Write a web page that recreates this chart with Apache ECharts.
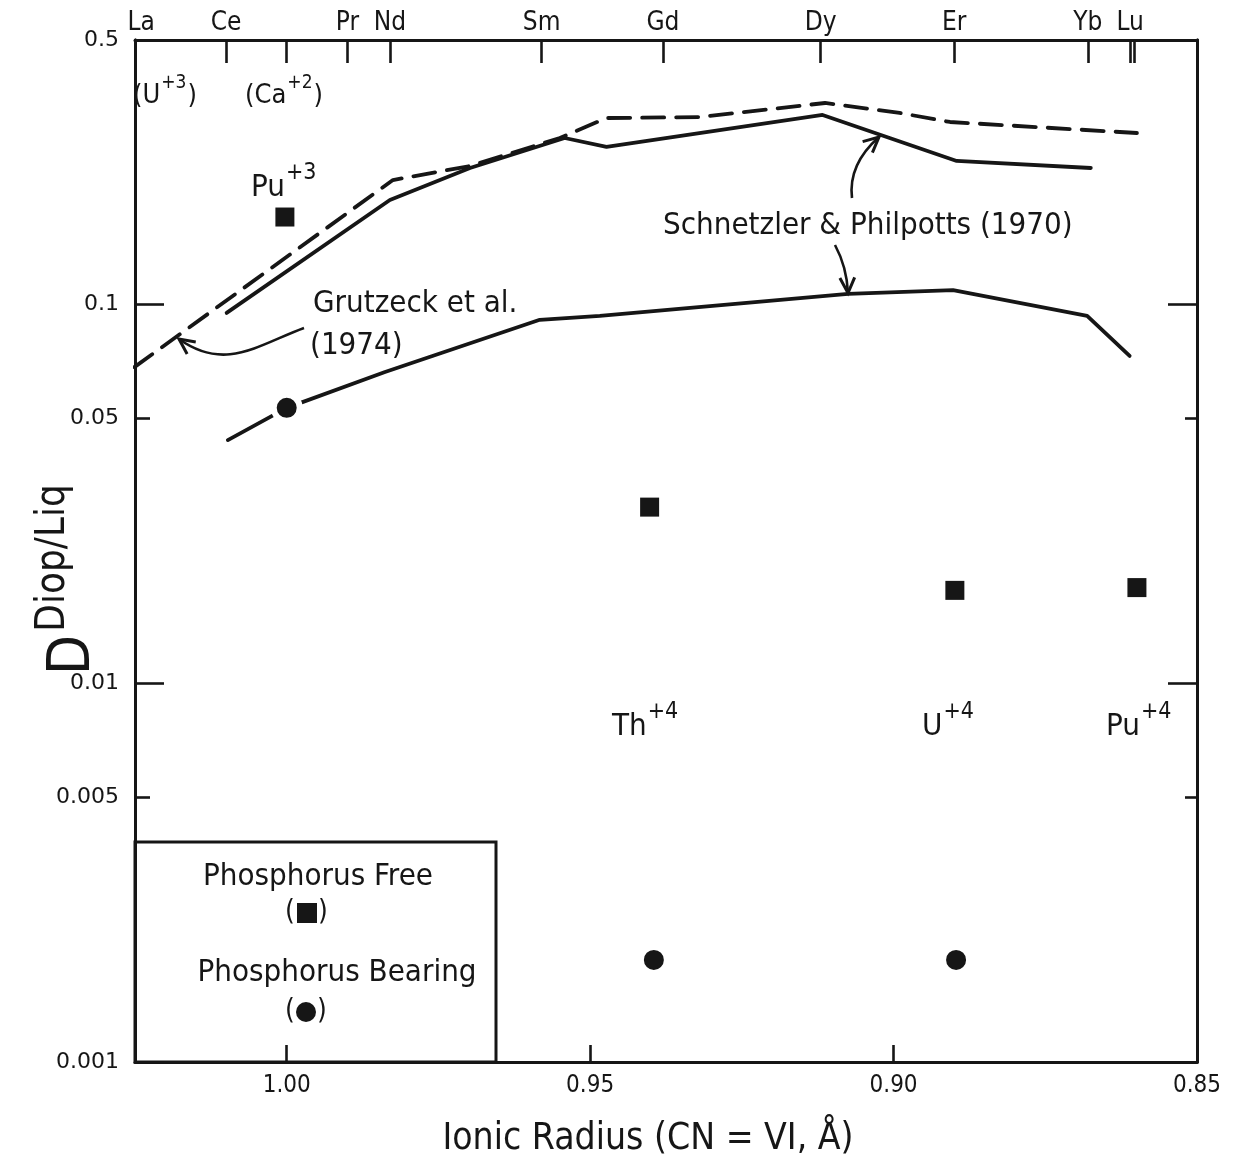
<!DOCTYPE html>
<html><head><meta charset="utf-8">
<script src="https://cdn.jsdelivr.net/npm/echarts@6/dist/echarts.min.js"></script>
<style>html,body{margin:0;padding:0;background:#fff}#c{width:1235px;height:1167px}</style>
</head><body><div id="c"></div>
<script>
// ---------------- data ----------------
// Grutzeck et al. (1974) – dashed curve
const grutzeckX = [1.0251, 0.9825, 0.9698, 0.9550, 0.9473, 0.9319, 0.9113, 0.8990, 0.8907, 0.8599];
const grutzeckY = [0.0684, 0.2134, 0.2324, 0.2755, 0.3111, 0.3130, 0.3409, 0.3209, 0.3037, 0.2840];
// Schnetzler & Philpotts (1970) – upper solid curve
const schUpperX = [1.0099, 0.9830, 0.9698, 0.9542, 0.9473, 0.9117, 0.8896, 0.8675];
const schUpperY = [0.0951, 0.1890, 0.2296, 0.2755, 0.2609, 0.3170, 0.2396, 0.2296];
// Schnetzler & Philpotts (1970) – lower solid curve
const schLowerX = [1.0097, 1.0000, 0.9838, 0.9583, 0.9484, 0.9075, 0.8902, 0.8681, 0.8611];
const schLowerY = [0.0439, 0.0534, 0.0664, 0.0912, 0.0934, 0.1068, 0.1093, 0.0934, 0.0732];
// Phosphorus free (squares): Pu+3, Th+4, U+4, Pu+4
const pFreeX = [1.0003, 0.9402, 0.8899, 0.8599];
const pFreeY = [0.1704, 0.0292, 0.0176, 0.0179];
// Phosphorus bearing (circles)
const pBearX = [1.0000, 0.9395, 0.8897];
const pBearY = [0.0534, 0.00186, 0.00186];
// axes
const xTickValues = [0.85, 0.90, 0.95, 1.00];
const yTickValues = [0.001, 0.005, 0.01, 0.05, 0.1, 0.5];
const yTickLabels = ['0.001', '0.005', '0.01', '0.05', '0.1', '0.5'];
const yMajorTicks = [0.001, 0.01, 0.1];
const yMinorTicks = [0.005, 0.05];
const elementNames = ['La', 'Ce', 'Pr', 'Nd', 'Sm', 'Gd', 'Dy', 'Er', 'Yb', 'Lu'];
const elementRadii = [1.024, 1.010, 0.990, 0.983, 0.958, 0.938, 0.912, 0.890, 0.868, 0.861];
const topTickValues = [1.010, 1.000, 0.990, 0.983, 0.958, 0.938, 0.912, 0.890, 0.868, 0.861, 0.8604];

// ---------------- helpers ----------------
const FONT = '"Liberation Sans Narrow","DejaVu Sans Condensed","Liberation Sans",sans-serif';
const NUMFONT = '"DejaVu Sans",sans-serif';
const INK = '#161616';
const mctx = document.createElement('canvas').getContext('2d');
function tw(t, fs, fam) { mctx.font = fs + 'px ' + (fam || FONT); return mctx.measureText(t).width; }
function pairs(xs, ys) { return xs.map((x, i) => [x, ys[i]]); }
function lookup(vals, labels, v) {
  for (let i = 0; i < vals.length; i++) if (Math.abs(vals[i] - v) / vals[i] < 1e-4) return labels[i];
  return '';
}
function txt(x, y, t, fs, align, extra) {
  return Object.assign({ type: 'text', x: x, y: y, silent: true,
    style: { text: t, fontSize: fs, fontFamily: FONT, fill: INK, align: align || 'left', verticalAlign: 'middle' } }, extra || {});
}
// superscripted label: parts alternate normal / sup
function supLabel(x, y, parts, fs, fsSup) {
  const out = []; let cx = x;
  parts.forEach(p => {
    const f = p.sup ? fsSup : fs;
    out.push(txt(cx, p.sup ? y - fs * 0.48 : y, p.t, f, 'left'));
    cx += tw(p.t, f) + 1;
  });
  return out;
}
function arrowHead(tx, ty, fx, fy, len, ang) {
  const a = Math.atan2(fy - ty, fx - tx);
  return { type: 'polyline', silent: true, shape: { points: [
    [tx + len * Math.cos(a + ang), ty + len * Math.sin(a + ang)], [tx, ty],
    [tx + len * Math.cos(a - ang), ty + len * Math.sin(a - ang)]] },
    style: { stroke: INK, lineWidth: 3, fill: null, lineJoin: 'miter' } };
}
function curve(x1, y1, c1x, c1y, c2x, c2y, x2, y2) {
  return { type: 'bezierCurve', silent: true,
    shape: { x1: x1, y1: y1, cpx1: c1x, cpy1: c1y, cpx2: c2x, cpy2: c2y, x2: x2, y2: y2 },
    style: { stroke: INK, lineWidth: 2.6, fill: null } };
}

const axisLine = { show: true, onZero: false, lineStyle: { color: INK, width: 3 } };
function yAxisDef(pos, ticks, len, labels) {
  return { type: 'log', logBase: 10, min: 0.001, max: 0.5, position: pos,
    axisLine: axisLine,
    axisTick: { show: true, inside: true, length: len, customValues: ticks, lineStyle: { color: INK, width: 2.6 } },
    axisLabel: labels ? { show: true, customValues: yTickValues, formatter: v => lookup(yTickValues, yTickLabels, v),
      fontFamily: NUMFONT, fontSize: 22, color: INK, margin: 16 } : { show: false },
    minorTick: { show: false }, splitLine: { show: false }, minorSplitLine: { show: false } };
}

const graphics = [];
// corner annotations
graphics.push(...supLabel(133, 96, [{ t: '(U' }, { t: '+3', sup: true }, { t: ')' }], 27, 19));
graphics.push(...supLabel(245, 96, [{ t: '(Ca' }, { t: '+2', sup: true }, { t: ')' }], 27, 19));
graphics.push(...supLabel(251, 188, [{ t: 'Pu' }, { t: '+3', sup: true }], 31, 23));
graphics.push(...supLabel(612, 727, [{ t: 'Th' }, { t: '+4', sup: true }], 31, 23));
graphics.push(...supLabel(922, 727, [{ t: 'U' }, { t: '+4', sup: true }], 31, 23));
graphics.push(...supLabel(1106, 727, [{ t: 'Pu' }, { t: '+4', sup: true }], 31, 23));
// curve labels
graphics.push(txt(313, 304, 'Grutzeck et al.', 31));
graphics.push(txt(310, 346, '(1974)', 31));
graphics.push(txt(663, 226, 'Schnetzler & Philpotts (1970)', 31));
// arrows
graphics.push(curve(304, 328, 258, 345, 225, 372, 179, 339));
graphics.push(arrowHead(179, 339, 225, 372, 17, 0.45));
graphics.push(curve(852, 198, 849, 173, 862, 152, 879, 137));
graphics.push(arrowHead(879, 137, 862, 152, 17, 0.45));
graphics.push(curve(835, 245, 842, 258, 847, 272, 848, 293));
graphics.push(arrowHead(848, 293, 847, 272, 17, 0.45));
// legend box
graphics.push({ type: 'rect', silent: true, shape: { x: 135, y: 842, width: 361, height: 220 },
  style: { stroke: INK, lineWidth: 3, fill: null } });
graphics.push(txt(318, 877, 'Phosphorus Free', 31, 'center'));
graphics.push(txt(290, 913, '(', 28, 'center'));
graphics.push(txt(323, 913, ')', 28, 'center'));
graphics.push({ type: 'rect', silent: true, shape: { x: 297, y: 903, width: 20, height: 20 }, style: { fill: INK } });
graphics.push(txt(337, 973, 'Phosphorus Bearing', 31, 'center'));
graphics.push(txt(290, 1012, '(', 28, 'center'));
graphics.push(txt(322, 1012, ')', 28, 'center'));
graphics.push({ type: 'circle', silent: true, shape: { cx: 306, cy: 1012, r: 10 }, style: { fill: INK } });
// axis titles
graphics.push(txt(648, 1139, 'Ionic Radius (CN = VI, Å)', 37, 'center'));
graphics.push(txt(74, 655, 'D', 58, 'center', { rotation: Math.PI / 2 }));
graphics.push(txt(54, 558, 'Diop/Liq', 40, 'center', { rotation: Math.PI / 2 }));

const option = {
  animation: false,
  backgroundColor: '#fff',
  grid: { left: 135, right: 38, top: 40, bottom: 105, containLabel: false },
  xAxis: [
    { type: 'value', min: 0.85, max: 1.025, inverse: true, position: 'bottom',
      axisLine: axisLine,
      axisTick: { show: true, inside: true, length: 17, customValues: xTickValues, lineStyle: { color: INK, width: 2.6 } },
      axisLabel: { customValues: xTickValues, formatter: v => v.toFixed(2), fontFamily: FONT, fontSize: 24, color: INK, margin: 12 },
      splitLine: { show: false } },
    { type: 'value', min: 0.85, max: 1.025, inverse: true, position: 'top',
      axisLine: axisLine,
      axisTick: { show: true, inside: true, length: 23, customValues: topTickValues, lineStyle: { color: INK, width: 2.6 } },
      axisLabel: { customValues: elementRadii, formatter: v => lookup(elementRadii, elementNames, v),
        fontFamily: FONT, fontSize: 26, color: INK, margin: 4 },
      splitLine: { show: false } }
  ],
  yAxis: [
    yAxisDef('left', yMajorTicks, 29, true),
    yAxisDef('left', yMinorTicks, 15, false),
    yAxisDef('right', [0.01, 0.1], 29, false),
    yAxisDef('right', yMinorTicks, 12, false)
  ],
  series: [
    { name: 'Grutzeck et al. (1974)', type: 'line', xAxisIndex: 0, yAxisIndex: 0, data: pairs(grutzeckX, grutzeckY),
      symbol: 'none', smooth: false, lineStyle: { color: INK, width: 3.8, type: [22, 12], cap: 'round' }, z: 2 },
    { name: 'Schnetzler upper', type: 'line', xAxisIndex: 0, yAxisIndex: 0, data: pairs(schUpperX, schUpperY),
      symbol: 'none', lineStyle: { color: INK, width: 3.8, cap: 'round' }, z: 2 },
    { name: 'Schnetzler lower', type: 'line', xAxisIndex: 0, yAxisIndex: 0, data: pairs(schLowerX, schLowerY),
      symbol: 'none', lineStyle: { color: INK, width: 3.8, cap: 'round' }, z: 2 },
    { name: 'Phosphorus Free', type: 'scatter', xAxisIndex: 0, yAxisIndex: 0, data: pairs(pFreeX, pFreeY),
      symbol: 'rect', symbolSize: 19, itemStyle: { color: INK, opacity: 1 }, z: 5 },
    { name: 'Phosphorus Bearing', type: 'scatter', xAxisIndex: 0, yAxisIndex: 0, data: pairs(pBearX, pBearY),
      symbol: 'circle', symbolSize: 26, itemStyle: { color: INK, borderColor: '#fff', borderWidth: 6, opacity: 1 }, z: 5 }
  ],
  graphic: { elements: graphics }
};
const chart = echarts.init(document.getElementById('c'));
chart.setOption(option);
</script>
</body></html>
